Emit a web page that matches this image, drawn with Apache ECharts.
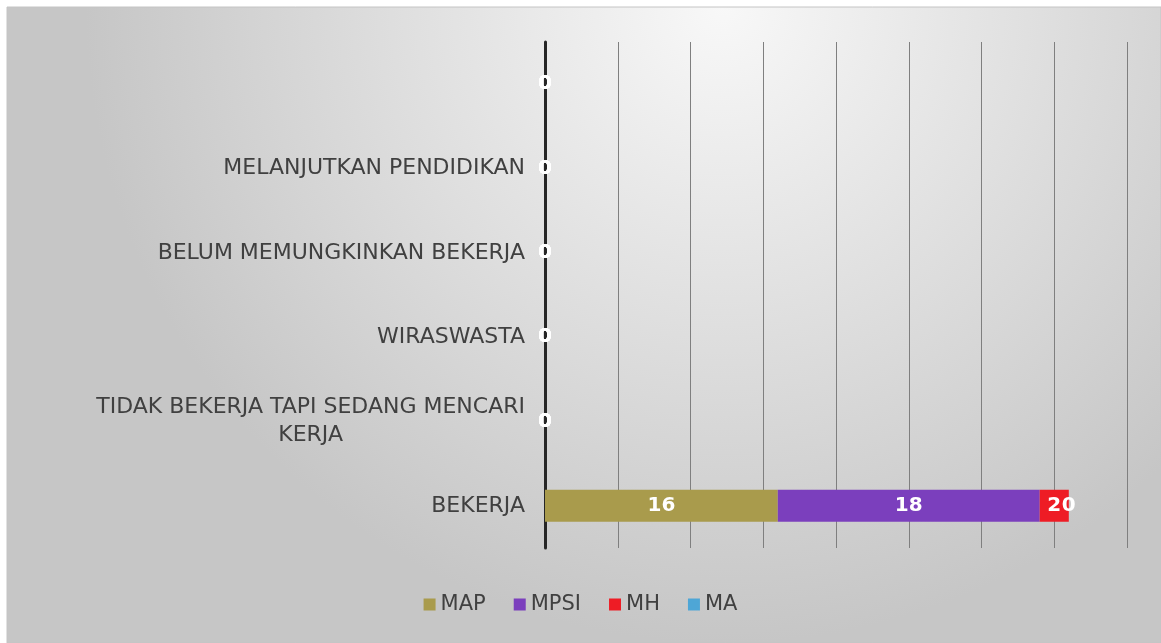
<!DOCTYPE html>
<html>
<head>
<meta charset="utf-8">
<script src="https://cdn.jsdelivr.net/npm/echarts@6/dist/echarts.min.js"></script>
<style>
html, body { margin: 0; padding: 0; background: #fff; }
#chart { width: 1161px; height: 643px; }
</style>
</head>
<body>
<div id="chart"></div>
<script>
var categories = ['BEKERJA', 'TIDAK BEKERJA TAPI SEDANG MENCARI\nKERJA', 'WIRASWASTA', 'BELUM MEMUNGKINKAN BEKERJA', 'MELANJUTKAN PENDIDIKAN', ''];
var mapValues = [16, 0, 0, 0, 0, 0];
var mpsiValues = [18, 0, 0, 0, 0, 0];
var mhValues = [2, 0, 0, 0, 0, 0];
var maValues = [0, 0, 0, 0, 0, 0];
var seriesNames = ['MAP', 'MPSI', 'MH', 'MA'];
var seriesColors = ['#a99b4c', '#7b3fbd', '#ee1c25', '#4ea6d6'];

var font = '"DejaVu Sans", sans-serif';
var chart = echarts.init(document.getElementById('chart'));

var makeSeries = function (name, data, color) {
    return {
        name: name,
        type: 'bar',
        stack: 'total',
        barWidth: '38%',
        data: data,
        itemStyle: { color: color },
        label: {
            show: true,
            position: 'inside',
            color: '#fff',
            fontFamily: font,
            fontWeight: 'bold',
            fontSize: 20
        }
    };
};

chart.setOption({
    animation: false,
    graphic: [{
        type: 'rect',
        z: -10,
        shape: { x: 7, y: 7, width: 1154, height: 636 },
        style: {
            fill: {
                type: 'radial', x: 0.62, y: 0, r: 1.0,
                colorStops: [
                    { offset: 0, color: '#f8f8f8' },
                    { offset: 1, color: '#c6c6c6' }
                ]
            },
            stroke: '#c4c4c4',
            lineWidth: 1
        }
    }],
    legend: {
        bottom: 23,
        left: 'center',
        itemWidth: 12,
        itemHeight: 12,
        itemGap: 28,
        icon: 'rect',
        textStyle: { color: '#404040', fontFamily: font, fontSize: 21 },
        data: seriesNames
    },
    grid: { left: 545, right: 34, top: 42, bottom: 95, containLabel: false },
    xAxis: {
        type: 'value',
        min: 0,
        max: 40,
        interval: 5,
        axisLabel: { show: false },
        axisLine: { show: false },
        axisTick: { show: false },
        splitLine: { lineStyle: { color: '#7f7f7f', width: 1 } }
    },
    yAxis: {
        type: 'category',
        data: categories,
        axisTick: { show: false },
        axisLine: { lineStyle: { color: '#262626', width: 3 } },
        axisLabel: {
            color: '#404040',
            fontFamily: font,
            fontSize: 22,
            lineHeight: 28,
            margin: 20,
            formatter: function (v) {
                var lines = v.split('\n');
                if (lines.length > 1) {
                    return lines[0] + '\n{c|' + lines[1] + '}';
                }
                return v;
            },
            rich: {
                c: { align: 'center', color: '#404040', fontFamily: font, fontSize: 22, lineHeight: 28 }
            }
        }
    },
    series: [
        makeSeries(seriesNames[0], mapValues, seriesColors[0]),
        makeSeries(seriesNames[1], mpsiValues, seriesColors[1]),
        makeSeries(seriesNames[2], mhValues, seriesColors[2]),
        makeSeries(seriesNames[3], maValues, seriesColors[3])
    ]
});
</script>
</body>
</html>
